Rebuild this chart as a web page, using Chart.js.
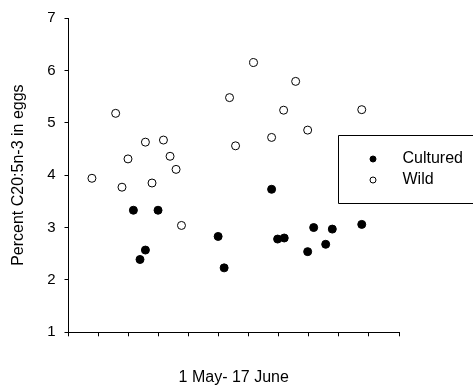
<!DOCTYPE html>
<html>
<head>
<meta charset="utf-8">
<script src="https://cdn.jsdelivr.net/npm/chart.js@4"></script>
<style>
  body { margin: 0; background: #fff; }
  #wrap { width: 473px; height: 391px; }
</style>
</head>
<body>
<div id="wrap"><canvas id="eggChart" width="473" height="391"></canvas></div>
<script>
// Datos (día desde 1 de mayo, % C20:5n-3)
const cultDay = [10.8, 11.9, 12.8, 14.9, 24.9, 25.9, 33.8, 34.8, 35.9, 39.8, 40.8, 42.8, 43.9, 48.8];
const cultPct = [3.33, 2.39, 2.57, 3.33, 2.83, 2.23, 3.73, 2.78, 2.80, 2.54, 3.00, 2.68, 2.97, 3.06];

const wildDay = [3.9, 7.85, 8.9, 9.9, 12.8, 13.9, 15.8, 16.9, 17.9, 18.8, 26.8, 27.8, 30.8, 33.8, 35.8, 37.8, 39.8, 48.8];
const wildPct = [3.94, 5.18, 3.77, 4.31, 4.63, 3.85, 4.67, 4.36, 4.11, 3.04, 5.48, 4.56, 6.15, 4.72, 5.24, 5.79, 4.86, 5.25];

const seriesNames = ['Cultured', 'Wild'];
const xTitle = '1 May- 17 June';
const yTitle = 'Percent C20:5n-3 in eggs';

const FONT = 'Liberation Sans, Arial, sans-serif';

function toPoints(xs, ys) {
    return xs.map((x, i) => ({ x: x, y: ys[i] }));
}

// Leyenda con recuadro, dibujada dentro del área del gráfico
const boxLegend = {
    id: 'boxLegend',
    afterDraw(chart) {
        const ctx = chart.ctx;
        const area = chart.chartArea;
        const left = Math.round(area.right - 61) + 0.5;
        const top = Math.round(area.top + 117) + 0.5;
        ctx.save();
        ctx.strokeStyle = '#000';
        ctx.lineWidth = 1;
        ctx.fillStyle = '#fff';
        ctx.beginPath();
        ctx.rect(left, top, 200, 68);
        ctx.fill();
        ctx.stroke();
        ctx.font = '16px ' + FONT;
        ctx.textBaseline = 'middle';
        chart.data.datasets.forEach((ds, i) => {
            const cy = top + 23.5 + i * 21;
            const cx = left + 34.5;
            ctx.beginPath();
            ctx.arc(cx, cy, 3, 0, Math.PI * 2);
            ctx.fillStyle = ds.pointBackgroundColor;
            ctx.fill();
            ctx.strokeStyle = '#000';
            ctx.stroke();
            ctx.fillStyle = '#000';
            ctx.fillText(ds.label, left + 64, cy);
        });
        ctx.restore();
    }
};

const ctxEgg = document.getElementById('eggChart').getContext('2d');
new Chart(ctxEgg, {
    type: 'scatter',
    data: {
        datasets: [{
            label: seriesNames[0],
            data: toPoints(cultDay, cultPct),
            pointBackgroundColor: '#000',
            pointBorderColor: '#000',
            pointBorderWidth: 1,
            pointRadius: 4,
        }, {
            label: seriesNames[1],
            data: toPoints(wildDay, wildPct),
            pointBackgroundColor: '#fff',
            pointBorderColor: '#000',
            pointBorderWidth: 1,
            pointRadius: 4,
        }]
    },
    options: {
        responsive: false,
        animation: false,
        layout: { padding: { left: 5, top: 15, right: 74, bottom: 0 } },
        plugins: {
            legend: { display: false },
            tooltip: { enabled: false }
        },
        scales: {
            x: {
                type: 'linear',
                min: 0,
                max: 55,
                ticks: { stepSize: 5, color: 'rgba(0,0,0,0)', font: { size: 1 } },
                grid: { drawOnChartArea: false, drawTicks: true, tickLength: 4, color: '#000' },
                border: { display: true, color: '#000', width: 1 },
                title: {
                    display: true,
                    text: xTitle,
                    color: '#000',
                    font: { family: FONT, size: 16 },
                    padding: { top: 4, bottom: 4 }
                },
                afterFit(scale) { scale.height = 58.7; }
            },
            y: {
                min: 1,
                max: 7,
                ticks: { stepSize: 1, color: '#000', padding: 9, font: { family: FONT, size: 15 } },
                grid: { drawOnChartArea: false, drawTicks: true, tickLength: 4, color: '#000' },
                border: { display: true, color: '#000', width: 1 },
                title: {
                    display: true,
                    text: yTitle,
                    color: '#000',
                    font: { family: FONT, size: 16 },
                    padding: { top: 4, bottom: 0 }
                },
                afterFit(scale) { scale.width = 63.5; }
            }
        }
    },
    plugins: [boxLegend]
});
</script>
</body>
</html>
